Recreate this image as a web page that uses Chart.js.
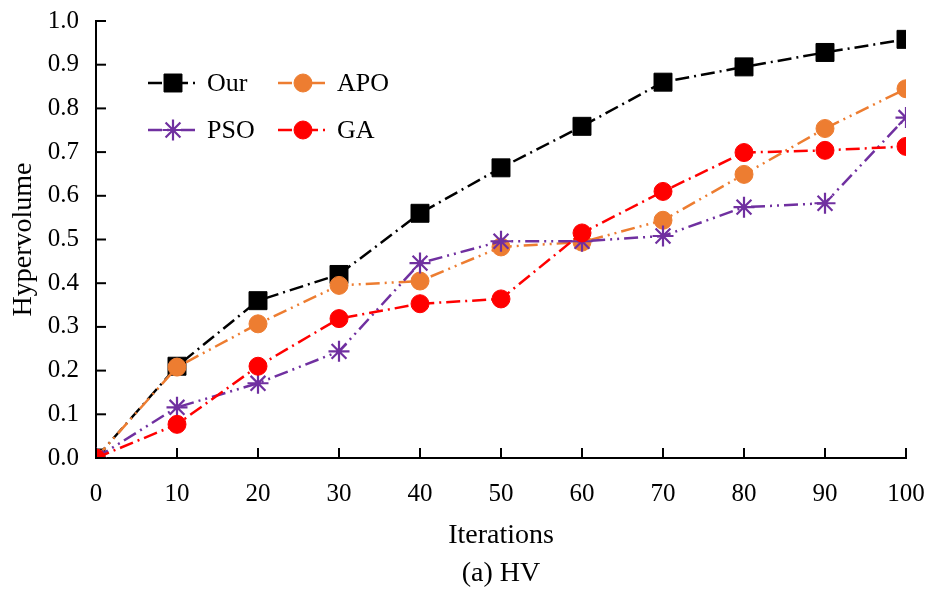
<!DOCTYPE html>
<html>
<head>
<meta charset="utf-8">
<script src="https://cdn.jsdelivr.net/npm/chart.js@4/dist/chart.umd.min.js"></script>
<style>
html,body{margin:0;padding:0;background:#fff;}
#wrap{width:928px;height:590px;}
</style>
</head>
<body>
<div id="wrap"><canvas id="c" width="928" height="590"></canvas></div>
<script>
const iterations = [0, 10, 20, 30, 40, 50, 60, 70, 80, 90, 100];
const ourHV = [0.0, 0.21, 0.36, 0.42, 0.56, 0.664, 0.759, 0.86, 0.895, 0.928, 0.958];
const apoHV = [0.0, 0.208, 0.307, 0.395, 0.405, 0.483, 0.494, 0.544, 0.649, 0.754, 0.845];
const psoHV = [0.0, 0.116, 0.171, 0.244, 0.446, 0.496, 0.496, 0.508, 0.574, 0.583, 0.779];
const gaHV  = [0.0, 0.077, 0.21, 0.319, 0.353, 0.364, 0.515, 0.61, 0.699, 0.704, 0.713];
const yTicks = [0.0, 0.1, 0.2, 0.3, 0.4, 0.5, 0.6, 0.7, 0.8, 0.9, 1.0];

const FONT = "'Liberation Serif', 'Times New Roman', serif";

function pts(arr){ return iterations.map((x,i)=>({x:x, y:arr[i]})); }

const datasets = [
  {label:'Our', data:pts(ourHV), borderColor:'#000000', backgroundColor:'#000000',
   borderDash:[14,5,2,5], pointStyle:'rect', pointRadius:12.7, pointBorderWidth:1, order:3},
  {label:'APO', data:pts(apoHV), borderColor:'#ED7D31', backgroundColor:'#ED7D31',
   borderDash:[14,5,2,5,2,5], pointStyle:'circle', pointRadius:9, pointBorderWidth:1, order:2},
  {label:'PSO', data:pts(psoHV), borderColor:'#7030A0', backgroundColor:'#7030A0',
   borderDash:[14,5,2,5,2,5], pointStyle:'star', pointRadius:10.5, pointBorderWidth:2.2, order:1},
  {label:'GA', data:pts(gaHV), borderColor:'#FF0000', backgroundColor:'#FF0000',
   borderDash:[14,5,2,5], pointStyle:'circle', pointRadius:9, pointBorderWidth:1, order:0}
];
datasets.forEach(d=>{ d.borderWidth=2.5; d.tension=0; d.fill=false; d.pointBorderColor=d.borderColor; d.pointBackgroundColor=d.backgroundColor; });

const innerTicks = {
  id:'innerTicks',
  afterDatasetsDraw(chart){
    const ctx = chart.ctx, xs = chart.scales.x, ys = chart.scales.y;
    const a = chart.chartArea;
    ctx.save();
    ctx.strokeStyle='#000'; ctx.lineWidth=2;
    iterations.forEach(v=>{
      const px = xs.getPixelForValue(v);
      ctx.beginPath(); ctx.moveTo(px, a.bottom); ctx.lineTo(px, a.bottom-10); ctx.stroke();
    });
    yTicks.forEach(v=>{
      const py = ys.getPixelForValue(v);
      ctx.beginPath(); ctx.moveTo(a.left, py); ctx.lineTo(a.left+10, py); ctx.stroke();
    });
    ctx.restore();
  }
};

const customLegend = {
  id:'customLegend',
  afterDraw(chart){
    const ctx = chart.ctx;
    const a = chart.chartArea;
    const ds = chart.data.datasets;
    const cols = [a.left+52, a.left+182];
    const rows = [a.top+62, a.top+109];
    ds.forEach((d,k)=>{
      const x0 = cols[k%2], y = rows[Math.floor(k/2)];
      const x1 = x0+50, mx = x0+25;
      ctx.save();
      ctx.strokeStyle = d.borderColor; ctx.lineWidth = 2.5;
      ctx.setLineDash(d.borderDash);
      ctx.beginPath(); ctx.moveTo(x0,y); ctx.lineTo(x1,y); ctx.stroke();
      ctx.setLineDash([]);
      ctx.fillStyle = d.backgroundColor; ctx.strokeStyle=d.borderColor; ctx.lineWidth=d.pointBorderWidth;
      Chart.helpers.drawPoint(ctx, {pointStyle:d.pointStyle, radius:d.pointRadius, rotation:0, borderWidth:d.pointBorderWidth}, mx, y);
      ctx.fillStyle = '#000';
      ctx.font = "26px " + FONT;
      ctx.textBaseline = 'middle'; ctx.textAlign='left';
      ctx.fillText(d.label, x1+9, y+1);
      ctx.restore();
    });
  }
};

new Chart(document.getElementById('c'), {
  type:'line',
  data:{datasets:datasets},
  options:{
    responsive:false,
    animation:false,
    devicePixelRatio:1,
    layout:{padding:{left:0, right:22, top:21, bottom:0}},
    plugins:{
      legend:{display:false},
      tooltip:{enabled:false},
      title:{display:true, text:'(a) HV', position:'bottom', fullSize:false, color:'#000',
        font:{family:FONT, size:28, weight:'normal'}, padding:{top:0, bottom:0}}
    },
    scales:{
      x:{type:'linear', min:0, max:100,
        afterBuildTicks(s){ s.ticks = iterations.map(v=>({value:v})); },
        afterFit(s){ s.height = 98.4; s.paddingLeft = 0; s.paddingRight = 0; },
        grid:{display:false, drawTicks:false},
        border:{display:true, color:'#000', width:2},
        ticks:{color:'#000', font:{family:FONT, size:25}, padding:21, maxRotation:0,
          callback:v=>String(v)},
        title:{display:true, text:'Iterations', color:'#000', font:{family:FONT, size:28}, padding:{top:0,bottom:4}}
      },
      y:{type:'linear', min:0, max:1,
        afterBuildTicks(s){ s.ticks = yTicks.map(v=>({value:v})); },
        afterFit(s){ s.width = 96; s.paddingTop = 0; s.paddingBottom = 0; },
        grid:{display:false, drawTicks:false},
        border:{display:true, color:'#000', width:2},
        ticks:{color:'#000', font:{family:FONT, size:25}, padding:17,
          callback:v=>Number(v).toFixed(1)},
        title:{display:true, text:'Hypervolume', color:'#000', font:{family:FONT, size:28}, padding:{top:7,bottom:0}}
      }
    }
  },
  plugins:[innerTicks, customLegend]
});
</script>
</body>
</html>
